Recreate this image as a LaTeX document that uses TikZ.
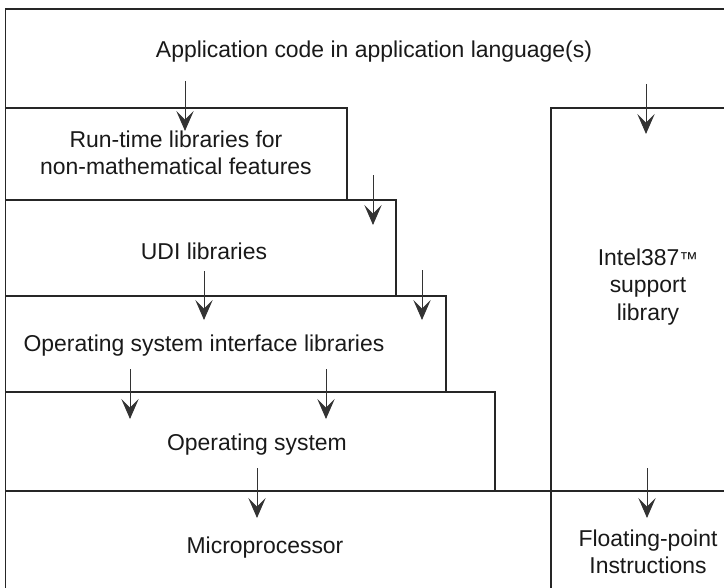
\documentclass[tikz,border=0pt]{standalone}
\usepackage{fontspec}
\setmainfont{Liberation Sans}
\usetikzlibrary{arrows.meta}
\begin{document}
\begin{tikzpicture}[x=0.75pt,y=-0.75pt,
  frame/.style={line width=1.4pt,draw=black!85},
  flow/.style={line width=0.7pt,draw=black!80,-{Stealth[length=15pt,width=13pt,inset=6.5pt]}},
  lbl/.style={font=\fontsize{17.2pt}{20.5pt}\selectfont,inner sep=0pt,align=center,text=black!90}]
\useasboundingbox (0,0) rectangle (724,588);
% frame lines
\draw[frame] (724,9) -- (5.5,9) -- (5.5,588);
\draw[frame] (5.5,108) -- (347,108) -- (347,200);
\draw[frame] (5.5,200) -- (396,200) -- (396,296);
\draw[frame] (5.5,296) -- (446,296) -- (446,392);
\draw[frame] (5.5,392) -- (495,392) -- (495,491);
\draw[frame] (5.5,491) -- (724,491);
\draw[frame] (724,108) -- (551,108) -- (551,588);
% labels
\node[lbl] (app) at (374,52) {Application code in application language(s)};
\node[lbl] (rtl) at (176,153) {Run-time libraries for\\non-mathematical features};
\node[lbl] (udi) at (204,251) {UDI libraries};
\node[lbl] (osi) at (204,346) {Operating system interface libraries};
\node[lbl] (os) at (257,445) {Operating system};
\node[lbl] (mp) at (265,548) {Microprocessor};
\node[lbl] (intel) at (648,287) {Intel387{\fontsize{14pt}{14pt}\selectfont ™}\\support\\library};
\node[lbl] (fpi) at (648,552) {Floating-point\\Instructions};
% arrow end points
\coordinate (a1s) at (185,81);  \coordinate (a1e) at (185,131);
\coordinate (a2s) at (646,84);  \coordinate (a2e) at (646,134);
\coordinate (a3s) at (373,175); \coordinate (a3e) at (373,225);
\coordinate (a4s) at (204,271); \coordinate (a4e) at (204,320);
\coordinate (a5s) at (422,270); \coordinate (a5e) at (422,320);
\coordinate (a6s) at (130,369); \coordinate (a6e) at (130,419);
\coordinate (a7s) at (326,369); \coordinate (a7e) at (326,419);
\coordinate (a8s) at (257,468); \coordinate (a8e) at (257,518);
\coordinate (a9s) at (647,468); \coordinate (a9e) at (647,518);
\foreach \i in {1,...,9} \draw[flow] (a\i s) -- (a\i e);
\end{tikzpicture}
\end{document}
